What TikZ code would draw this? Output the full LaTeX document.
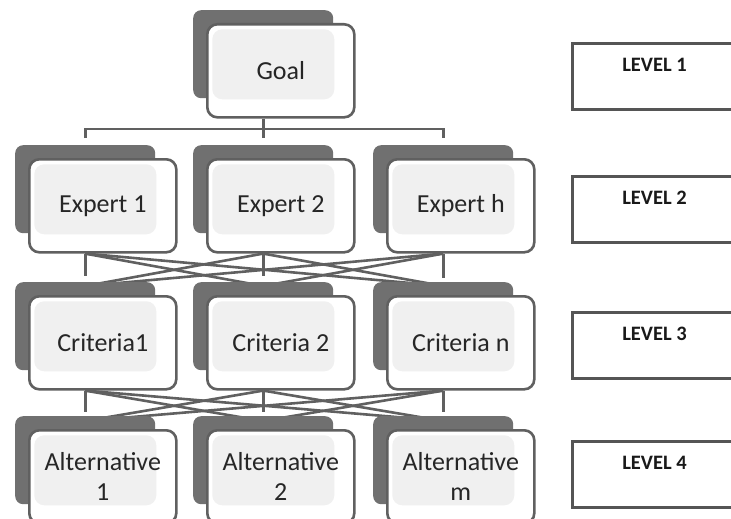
\documentclass[tikz,border=0pt]{standalone}
\usepackage{fontspec}
\setmainfont{Carlito}
\usetikzlibrary{positioning,backgrounds}
\definecolor{shadegray}{HTML}{707070}
\definecolor{edgegray}{HTML}{606060}
\definecolor{innergray}{HTML}{F0F0F0}
\definecolor{levelgray}{HTML}{555555}

\begin{document}
\begin{tikzpicture}[x=1pt, y=-1pt,
    back/.style={rectangle, fill=shadegray, rounded corners=8pt, minimum width=140pt, minimum height=88pt, inner sep=0pt, anchor=north west},
    front/.style={rectangle, draw=edgegray, line width=2.6pt, fill=white, rounded corners=10pt, minimum width=147pt, minimum height=93pt, inner sep=0pt, anchor=north west, align=center, text=black!85, font=\fontsize{26}{30}\selectfont,
        path picture={\fill[innergray] ([xshift=5pt,yshift=-5pt]path picture bounding box.north west) rectangle ([xshift=-20pt,yshift=18pt]path picture bounding box.south east);}},
    levelbox/.style={rectangle, draw=levelgray, line width=3pt, fill=white, minimum width=164pt, minimum height=66pt, inner sep=0pt, anchor=north west},
    levellabel/.style={font=\bfseries\fontsize{20.5}{24}\selectfont, text=black!90, anchor=base, yshift=-29pt},
    link/.style={draw=edgegray, line width=2.6pt}
]
\useasboundingbox (0,0) rectangle (731,519);
\clip (0,0) rectangle (731,519);

% level 1
\node[back] (goal-b) at (193,10) {};
\node[front] (goal) at (206,23) {Goal};

% level 2
\node[back] (exp1-b) at (15,145) {};
\node[front] (exp1) at (28,158) {Expert 1};
\node[back] (exp2-b) at (193,145) {};
\node[front] (exp2) at (206,158) {Expert 2};
\node[back] (exp3-b) at (373,145) {};
\node[front] (exp3) at (386,158) {Expert h};

% level 3
\node[back] (crit1-b) at (15,282) {};
\node[front] (crit1) at (28,295) {Criteria1};
\node[back] (crit2-b) at (193,282) {};
\node[front] (crit2) at (206,295) {Criteria 2};
\node[back] (crit3-b) at (373,282) {};
\node[front] (crit3) at (386,295) {Criteria n};

% level 4
\node[back] (alt1-b) at (15,416) {};
\node[front] (alt1) at (28,429) {Alternative\\1};
\node[back] (alt2-b) at (193,416) {};
\node[front] (alt2) at (206,429) {Alternative\\2};
\node[back] (alt3-b) at (373,416) {};
\node[front] (alt3) at (386,429) {Alternative\\m};

% level boxes
\node[levelbox, label={[levellabel]north:LEVEL 1}] (lev1) at (571,42) {};
\node[levelbox, label={[levellabel]north:LEVEL 2}] (lev2) at (571,175) {};
\node[levelbox, label={[levellabel]north:LEVEL 3}] (lev3) at (571,311) {};
\node[levelbox, label={[levellabel]north:LEVEL 4}] (lev4) at (571,440) {};

\begin{scope}[on background layer]
% goal to experts
\draw[link] (goal-b |- goal.south) -- ([yshift=7pt]exp2-b.north);
\draw[link] ([yshift=7pt]exp1-b.north) |- ([yshift=16pt]exp2-b.north) -| ([yshift=7pt]exp3-b.north);

% experts to criteria
\draw[link] (exp1-b |- exp1.south) -- ([yshift=6pt]crit1-b.north);
\draw[link] (exp2-b |- exp2.south) -- ([yshift=6pt]crit2-b.north);
\draw[link] (exp3-b |- exp3.south) -- ([yshift=4pt]crit3-b.north);
\draw[link] (exp1-b |- exp1.south) -- ([yshift=-4pt]crit2-b.north);
\draw[link] (exp1-b |- exp1.south) -- ([yshift=-4pt]crit3-b.north);
\draw[link] (exp2-b |- exp2.south) -- ([yshift=-4pt]crit1-b.north);
\draw[link] (exp2-b |- exp2.south) -- ([yshift=-4pt]crit3-b.north);
\draw[link] (exp3-b |- exp3.south) -- ([yshift=-4pt]crit1-b.north);
\draw[link] (exp3-b |- exp3.south) -- ([yshift=-4pt]crit2-b.north);

% criteria to alternatives
\draw[link] (crit1-b |- crit1.south) -- ([yshift=4pt]alt1-b.north);
\draw[link] (crit2-b |- crit2.south) -- ([yshift=4pt]alt2-b.north);
\draw[link] (crit3-b |- crit3.south) -- ([yshift=4pt]alt3-b.north);
\draw[link] (crit1-b |- crit1.south) -- ([yshift=-5pt]alt2-b.north);
\draw[link] (crit1-b |- crit1.south) -- ([yshift=-5pt]alt3-b.north);
\draw[link] (crit2-b |- crit2.south) -- ([yshift=-5pt]alt1-b.north);
\draw[link] (crit2-b |- crit2.south) -- ([yshift=-5pt]alt3-b.north);
\draw[link] (crit3-b |- crit3.south) -- ([yshift=-5pt]alt1-b.north);
\draw[link] (crit3-b |- crit3.south) -- ([yshift=-5pt]alt2-b.north);
\end{scope}
\end{tikzpicture}
\end{document}
